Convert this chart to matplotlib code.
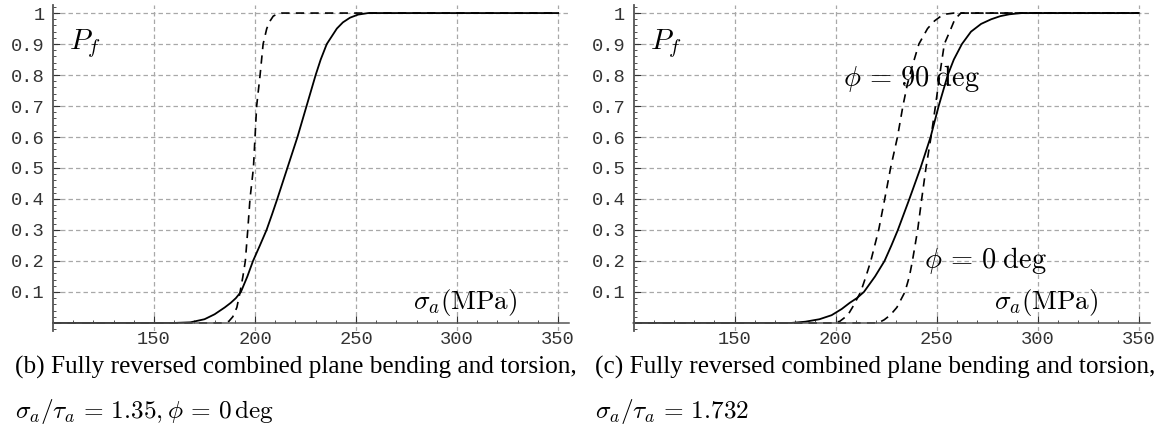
import matplotlib
matplotlib.use("Agg")
import matplotlib.pyplot as plt
from matplotlib.ticker import MultipleLocator, FixedLocator

plt.rcParams['mathtext.fontset'] = 'cm'
plt.rcParams['lines.scale_dashes'] = False

# ---------------- data ----------------
x_ticks = [150, 200, 250, 300, 350]
y_ticks = [0.1, 0.2, 0.3, 0.4, 0.5, 0.6, 0.7, 0.8, 0.9, 1.0]
y_tick_labels = ["0.1", "0.2", "0.3", "0.4", "0.5", "0.6", "0.7", "0.8", "0.9", "1"]

# panel (b)
b_solid_x = [100, 160, 168, 175, 180, 185, 188, 190.5, 193, 196.2, 199, 202.4, 205.7,
             208.4, 211, 216, 221, 225.5, 230, 232.5, 235.5, 237.5, 240.5, 243.5, 247,
             251, 256, 350]
b_solid_p = [0, 0, 0.002, 0.012, 0.028, 0.05, 0.065, 0.08, 0.1, 0.15, 0.2, 0.25, 0.3,
             0.35, 0.4, 0.5, 0.6, 0.7, 0.8, 0.85, 0.9, 0.92, 0.95, 0.97, 0.985,
             0.995, 1, 1]
b_dash_x = [100, 184, 187, 189, 191, 192.6, 194, 195.2, 196.4, 197.5, 199.2, 200,
            200.8, 202.5, 204, 205.8, 207.5, 209, 211, 213, 350]
b_dash_p = [0, 0, 0.005, 0.02, 0.05, 0.1, 0.15, 0.2, 0.3, 0.4, 0.5, 0.6,
            0.7, 0.8, 0.9, 0.95, 0.975, 0.99, 0.997, 1, 1]

# panel (c)
c_solid_x = [100, 178, 185, 192, 198, 203, 207, 210.5, 214, 219.5, 224.2, 227.6, 230.8,
             236.5, 242, 247, 251, 255.5, 258.5, 262.5, 267, 272, 277, 281.5, 286,
             292, 350]
c_solid_p = [0, 0, 0.004, 0.012, 0.025, 0.045, 0.065, 0.08, 0.1, 0.15, 0.2, 0.25, 0.3,
             0.4, 0.5, 0.6, 0.7, 0.8, 0.85, 0.9, 0.94, 0.965, 0.98, 0.99, 0.996,
             1, 1]
c_dash90_x = [100, 198, 202, 206, 208.3, 212.4, 215, 217.4, 221.3, 224.3, 227.2,
              230.6, 233.3, 235.5, 238, 241.2, 245.5, 249, 252.1, 255, 258.6, 350]
c_dash90_p = [0, 0, 0.005, 0.025, 0.05, 0.1, 0.15, 0.2, 0.3, 0.4, 0.5,
              0.6, 0.7, 0.77, 0.83, 0.9, 0.95, 0.975, 0.99, 0.997, 1, 1]
c_dash0_x = [100, 221, 224, 227, 230.3, 234.3, 236.5, 238, 240.6, 242.6, 244.7,
             247.2, 249.4, 251.5, 253.8, 257.1, 259, 262, 350]
c_dash0_p = [0, 0, 0.01, 0.025, 0.05, 0.1, 0.15, 0.2, 0.3, 0.4, 0.5,
             0.6, 0.7, 0.8, 0.9, 0.95, 0.98, 1, 1]

caption_b = ["(b) Fully reversed combined plane bending and torsion,",
             r"$\sigma_a/\tau_a\,=\,1.35, \phi\,=\,0\,\mathrm{deg}$"]
caption_c = ["(c) Fully reversed combined plane bending and torsion,",
             r"$\sigma_a/\tau_a\,=\,1.732$"]

# ---------------- figure ----------------
W, H = 1160, 425
fig = plt.figure(figsize=(W / 100, H / 100), dpi=100)

ax_w = 516 / W
ax_h = 326 / H
ax_b = (425 - 331) / H
axL = fig.add_axes([53 / W, ax_b, ax_w, ax_h])
axR = fig.add_axes([633.6 / W, ax_b, ax_w, ax_h])

mono = "Liberation Mono"
grid_col = "#a8a8a8"
axis_col = "#555555"
dash_curve = (0, (6.0, 4.5))


def style(ax):
    ax.set_xlim(100, 355.4)
    ax.set_ylim(-0.026, 1.026)
    for s in ("top", "right"):
        ax.spines[s].set_visible(False)
    ax.spines["bottom"].set_position(("data", 0))
    ax.spines["left"].set_position(("data", 100))
    ax.spines["bottom"].set_color(axis_col)
    ax.spines["left"].set_color(axis_col)
    ax.spines["bottom"].set_linewidth(1.1)
    ax.spines["left"].set_linewidth(1.3)
    ax.xaxis.set_major_locator(FixedLocator(x_ticks))
    ax.xaxis.set_minor_locator(MultipleLocator(10))
    ax.yaxis.set_major_locator(FixedLocator(y_ticks))
    ax.yaxis.set_minor_locator(MultipleLocator(0.02))
    ax.set_xticklabels([str(v) for v in x_ticks], fontfamily=mono, fontsize=13.5)
    ax.set_yticklabels(y_tick_labels, fontfamily=mono, fontsize=13.5)
    ax.tick_params(axis="x", which="major", direction="in", length=5, color=axis_col, pad=6)
    ax.tick_params(axis="x", which="minor", direction="in", length=2.5, color=axis_col)
    ax.tick_params(axis="y", which="major", direction="in", length=5, color=axis_col, pad=6)
    ax.tick_params(axis="y", which="minor", direction="in", length=2, color=axis_col)
    ax.tick_params(colors="#333333", which="both", labelcolor="#333333")
    ax.grid(True, which="major", color=grid_col, linestyle=(0, (3.2, 2.2)), linewidth=0.9)
    ax.set_axisbelow(True)
    ax.patch.set_alpha(0)
    ax.text(108, 0.9, r"$P_f$", fontsize=21, ha="left", va="center")
    ax.text(304, 0.065, r"$\sigma_a(\mathrm{MPa})$", fontsize=19.5, ha="center", va="center")


style(axL)
style(axR)

axL.plot(b_solid_x, b_solid_p, color="black", lw=1.3, clip_on=False)
axL.plot(b_dash_x, b_dash_p, color="black", lw=1.2, linestyle=dash_curve, clip_on=False)

axR.plot(c_solid_x, c_solid_p, color="black", lw=1.3, clip_on=False)
axR.plot(c_dash90_x, c_dash90_p, color="black", lw=1.2, linestyle=dash_curve, clip_on=False)
axR.plot(c_dash0_x, c_dash0_p, color="black", lw=1.2, linestyle=dash_curve, clip_on=False)

axR.text(203.5, 0.79, r"$\phi\,=\,90\;\mathrm{deg}$", fontsize=20.5, ha="left", va="center")
axR.text(243.7, 0.2, r"$\phi\,=\,0\;\mathrm{deg}$", fontsize=20.5, ha="left", va="center")

serif = "Liberation Serif"
cap_fs = 18.2
fig.text(15 / W, 1 - 367 / H, caption_b[0], fontfamily=serif, fontsize=cap_fs, ha="left", va="center")
fig.text(15 / W, 1 - 411 / H, caption_b[1], fontsize=cap_fs, ha="left", va="center")
fig.text(595 / W, 1 - 367 / H, caption_c[0], fontfamily=serif, fontsize=cap_fs, ha="left", va="center")
fig.text(595 / W, 1 - 411 / H, caption_c[1], fontsize=cap_fs, ha="left", va="center")

fig.savefig("out.png", dpi=100)
